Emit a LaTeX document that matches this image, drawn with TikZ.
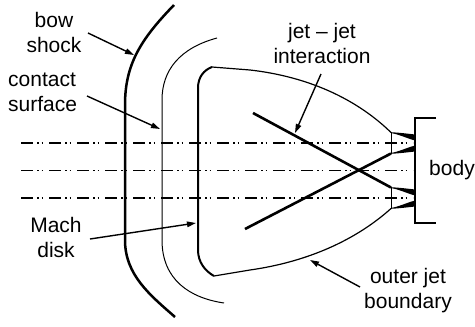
\documentclass[tikz,border=0pt]{standalone}
\usepackage{fontspec}
\setmainfont{Liberation Sans}
\usetikzlibrary{arrows.meta}
\begin{document}
\begin{tikzpicture}[x=1pt,y=-1pt,
  labeltext/.style={font=\fontsize{21}{25}\selectfont, inner sep=0pt, align=center},
  pointer/.style={line width=1.4pt, -{Triangle[length=9pt,width=5.5pt]}},
  axisline/.style={line width=1.3pt, dash pattern=on 12pt off 4pt on 1.5pt off 3pt on 1.5pt off 6pt},
  shockline/.style={line width=2.5pt},
  contactline/.style={line width=1pt},
  diskline/.style={line width=2pt},
  boundaryline/.style={line width=1.2pt},
  jetline/.style={line width=2.6pt},
  bodyline/.style={line width=1.6pt},
  exitline/.style={line width=0.9pt}]
\useasboundingbox (0,0) rectangle (475,327);

% symmetry axes of the nozzles and of the body
\foreach \yy/\nm in {143/ax1,170.5/ax2,198/ax3} {
  \coordinate (\nm s) at (21,\yy);
  \coordinate (\nm e) at (413,\yy);
  \draw[axisline] (\nm s) -- (\nm e);
}

% nozzle exit planes and nozzle walls
\coordinate (uT) at (391,132.5);
\coordinate (uB) at (391,153.5);
\coordinate (lT) at (391,187.5);
\coordinate (lB) at (391,208.5);
\foreach \yc in {143,198} {
  \draw[exitline] (391,\yc-10.5) -- (391,\yc+10.5);
  \fill (391,\yc-10.8) .. controls (400,\yc-10.3) and (408,\yc-9.3) .. (415,\yc-8.5)
        -- (415,\yc-2.5) .. controls (406,\yc-5) and (398,\yc-9) .. (391,\yc-9.9) -- cycle;
  \fill (391,\yc+10.8) .. controls (400,\yc+10.3) and (408,\yc+9.3) .. (415,\yc+8.5)
        -- (415,\yc+2.5) .. controls (406,\yc+5) and (398,\yc+9) .. (391,\yc+9.9) -- cycle;
}

% body
\coordinate (bd1) at (436,118);
\coordinate (bd2) at (415,118);
\coordinate (bd3) at (415,223);
\coordinate (bd4) at (436,223);
\draw[bodyline] (bd1) -- (bd2) -- (bd3) -- (bd4);

% bow shock
\coordinate (bsTop) at (174,5);
\coordinate (bsBot) at (175,317);
\draw[shockline] (bsTop) .. controls (140,40) and (125,65) .. (125,105)
  -- (125,240) .. controls (125,275) and (150,295) .. (bsBot);

% contact surface
\coordinate (csTop) at (217,38);
\coordinate (csBot) at (224,303);
\draw[contactline] (csTop) .. controls (180,48) and (162,70) .. (162,100)
  -- (162,240) .. controls (162,280) and (190,298) .. (csBot);

% Mach disk
\coordinate (mTop) at (212,67);
\coordinate (mBot) at (214,276);
\draw[diskline] (mTop) .. controls (204,70) and (198,77) .. (198,88)
  -- (198,250) .. controls (198,262) and (205,271) .. (mBot);

% outer jet boundary
\draw[boundaryline] (mTop) -- (250,70) .. controls (320,78) and (365,107) .. (uT);
\draw[boundaryline] (mBot) -- (250,270) .. controls (320,260) and (365,232) .. (lB);

% crossing jets
\coordinate (jA) at (253,113);
\coordinate (jB) at (245,229);
\draw[jetline] (jA) -- (lT);
\draw[jetline] (jB) -- (uB);

% labels
\node[labeltext] (bowlbl) at (54,32.5) {bow\\shock};
\node[labeltext, align=left, anchor=west] (contactlbl) at (8,92.5) {contact\\surface};
\node[labeltext] (machlbl) at (56,237) {Mach\\disk};
\node[labeltext] (jetlbl) at (322,43) {jet -- jet\\interaction};
\node[labeltext] (outerlbl) at (408,291) {outer jet\\boundary};
\node[labeltext, anchor=base] (bodylbl) at (452,175) {body};

% pointers
\coordinate (p1s) at (88,33);   \coordinate (p1e) at (134,55);
\coordinate (p2s) at (87,96);   \coordinate (p2e) at (160,129);
\coordinate (p3s) at (90,239);  \coordinate (p3e) at (196,223);
\coordinate (p4s) at (321,74);  \coordinate (p4e) at (295,133);
\coordinate (p5s) at (360,287); \coordinate (p5e) at (310,260);
\draw[pointer] (p1s) -- (p1e);
\draw[pointer] (p2s) -- (p2e);
\draw[pointer] (p3s) -- (p3e);
\draw[pointer] (p4s) -- (p4e);
\draw[pointer] (p5s) -- (p5e);
\end{tikzpicture}
\end{document}
